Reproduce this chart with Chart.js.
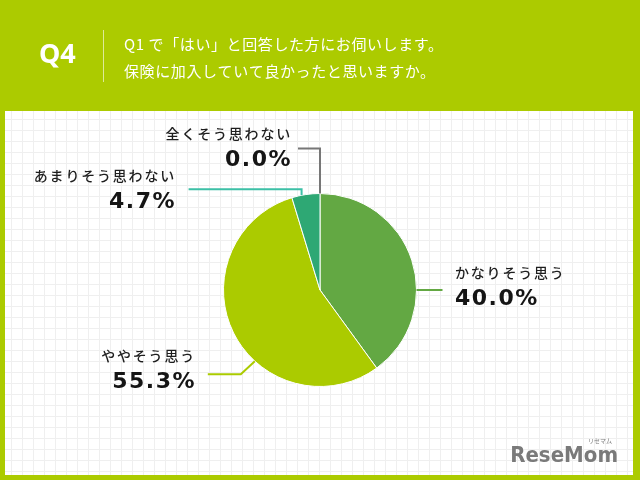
<!DOCTYPE html>
<html>
<head>
<meta charset="utf-8">
<script src="https://cdn.jsdelivr.net/npm/chart.js@4"></script>
<style>
  html, body { margin: 0; padding: 0; background: #accb00; }
  #chart { display: block; }
</style>
</head>
<body>
<canvas id="chart" width="640" height="480"></canvas>
<script>
// Q4 pie data
const questionNo = 'Q4';
const titleLines = ['Q1 で「はい」と回答した方にお伺いします。', '保険に加入していて良かったと思いますか。'];
const categories = ['かなりそう思う', 'ややそう思う', 'あまりそう思わない', '全くそう思わない'];
const values = [40.0, 55.3, 4.7, 0.0];
const sliceColors = ['#63a843', '#abcb00', '#2ea874', '#888888'];
const leaderColors = ['#63a843', '#abcb00', '#3cc0a6', '#777777'];

// label layout: anchor angle on the rim (deg), leader bends, text anchor
const labelLayout = [
  { angle: 0, path: [[26, 0]], align: 'left', tx: 135, ty: -3 },
  { angle: 132.5, path: [[-14, 13], [-47, 13]], align: 'right', tx: -124, ty: 80 },
  { angle: -101, path: [[0, -6], [-113, -6]], align: 'right', tx: -144, ty: -100 },
  { angle: -90, path: [[0, -45], [-22, -45]], align: 'right', tx: -28, ty: -142 },
];

const bgPlugin = {
  id: 'bg',
  beforeDraw(chart) {
    const ctx = chart.ctx;
    ctx.save();
    ctx.fillStyle = '#accb00';
    ctx.fillRect(0, 0, 640, 480);
    // white panel with grid
    const px = 5, py = 111, pw = 628, ph = 364;
    ctx.fillStyle = '#ffffff';
    ctx.fillRect(px, py, pw, ph);
    ctx.strokeStyle = '#efefef';
    ctx.lineWidth = 1;
    ctx.beginPath();
    for (let x = px + 6; x < px + pw; x += 11) {
      ctx.moveTo(Math.round(x) + 0.5, py);
      ctx.lineTo(Math.round(x) + 0.5, py + ph);
    }
    for (let y = py + 8; y < py + ph; y += 11) {
      ctx.moveTo(px, Math.round(y) + 0.5);
      ctx.lineTo(px + pw, Math.round(y) + 0.5);
    }
    ctx.stroke();

    // header
    ctx.fillStyle = '#ffffff';
    ctx.textBaseline = 'middle';
    ctx.font = 'bold 27px "Noto Sans", sans-serif';
    ctx.fillText(questionNo, 39, 55);
    ctx.strokeStyle = 'rgba(255,255,255,0.6)';
    ctx.beginPath();
    ctx.moveTo(103.5, 30);
    ctx.lineTo(103.5, 82);
    ctx.stroke();
    ctx.font = '15px "Noto Sans CJK JP", sans-serif';
    ctx.letterSpacing = '0.6px';
    ctx.fillText(titleLines[0], 124, 44);
    ctx.fillText(titleLines[1], 124, 71);
    ctx.letterSpacing = '0px';

    // logo
    ctx.fillStyle = '#7a7a7a';
    ctx.font = 'bold 22px "DejaVu Sans Condensed", "DejaVu Sans", sans-serif';
    ctx.textAlign = 'right';
    ctx.fillText('ReseMom', 618, 456);
    ctx.font = '6px "Noto Sans CJK JP", sans-serif';
    ctx.fillText('リセマム', 612, 441);
    ctx.restore();
  }
};

const labelPlugin = {
  id: 'labels',
  afterDraw(chart) {
    const ctx = chart.ctx;
    const arc = chart.getDatasetMeta(0).data[0];
    const cx = arc.x, cy = arc.y, r = arc.outerRadius;
    ctx.save();
    labelLayout.forEach((l, i) => {
      const a = l.angle * Math.PI / 180;
      const sx = cx + r * Math.cos(a), sy = cy + r * Math.sin(a);
      ctx.strokeStyle = leaderColors[i];
      ctx.lineWidth = 2;
      ctx.beginPath();
      ctx.moveTo(sx, sy);
      l.path.forEach(p => ctx.lineTo(sx + p[0], sy + p[1]));
      ctx.stroke();

      const tx = cx + l.tx, ty = cy + l.ty;
      ctx.textAlign = l.align;
      ctx.textBaseline = 'middle';
      ctx.fillStyle = '#1e1e1e';
      ctx.font = '500 14px "Noto Sans CJK JP", sans-serif';
      ctx.letterSpacing = '1.8px';
      ctx.fillText(categories[i], tx, ty - 14);
      ctx.fillStyle = '#151515';
      ctx.font = 'bold 22px "DejaVu Sans", sans-serif';
      ctx.letterSpacing = '1.5px';
      ctx.fillText(values[i].toFixed(1) + '%', tx, ty + 12);
    });
    ctx.restore();
  }
};

new Chart(document.getElementById('chart'), {
  type: 'pie',
  data: {
    labels: categories,
    datasets: [{
      data: values,
      backgroundColor: sliceColors,
      borderColor: '#ffffff',
      borderWidth: 1,
    }],
  },
  options: {
    responsive: false,
    animation: false,
    layout: { padding: { top: 193, bottom: 93, left: 0, right: 0 } },
    plugins: { legend: { display: false }, tooltip: { enabled: false } },
  },
  plugins: [bgPlugin, labelPlugin],
});
</script>
</body>
</html>
